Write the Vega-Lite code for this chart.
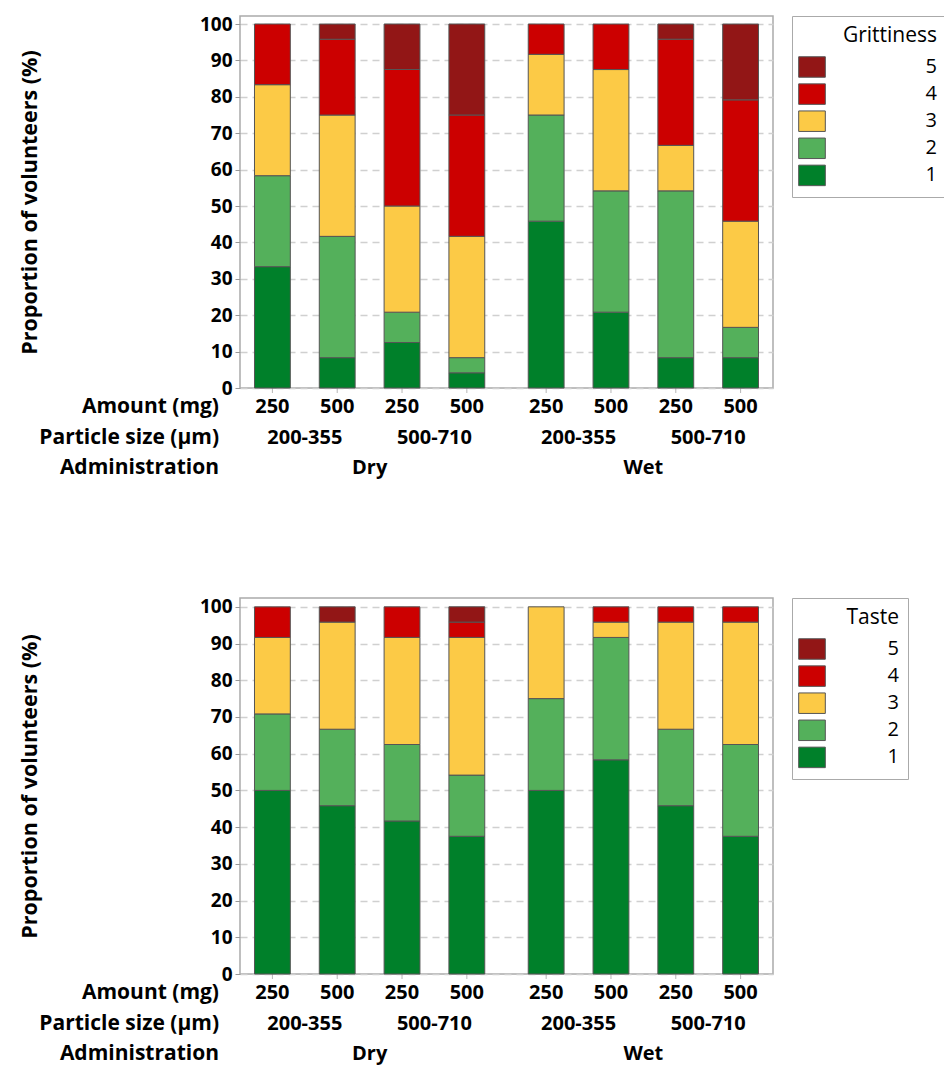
{
  "$schema": "https://vega.github.io/schema/vega-lite/v6.json",
  "padding": {"left": 18, "top": 14, "right": 0, "bottom": 0},
  "background": "white",
  "config": {
    "font": "Open Sans",
    "view": {"stroke": "#aaaaaa", "strokeWidth": 1.5},
    "concat": {"spacing": 117}
  },
  "data": {"values": [
    {"m":"Grittiness","admin":"Dry","particle":"200-355","amount":"250","cell":"200-355|250","level":1,"pct":33.33},
    {"m":"Grittiness","admin":"Dry","particle":"200-355","amount":"250","cell":"200-355|250","level":2,"pct":25},
    {"m":"Grittiness","admin":"Dry","particle":"200-355","amount":"250","cell":"200-355|250","level":3,"pct":25},
    {"m":"Grittiness","admin":"Dry","particle":"200-355","amount":"250","cell":"200-355|250","level":4,"pct":16.67},
    {"m":"Grittiness","admin":"Dry","particle":"200-355","amount":"500","cell":"200-355|500","level":1,"pct":8.33},
    {"m":"Grittiness","admin":"Dry","particle":"200-355","amount":"500","cell":"200-355|500","level":2,"pct":33.33},
    {"m":"Grittiness","admin":"Dry","particle":"200-355","amount":"500","cell":"200-355|500","level":3,"pct":33.33},
    {"m":"Grittiness","admin":"Dry","particle":"200-355","amount":"500","cell":"200-355|500","level":4,"pct":20.83},
    {"m":"Grittiness","admin":"Dry","particle":"200-355","amount":"500","cell":"200-355|500","level":5,"pct":4.17},
    {"m":"Grittiness","admin":"Dry","particle":"500-710","amount":"250","cell":"500-710|250","level":1,"pct":12.5},
    {"m":"Grittiness","admin":"Dry","particle":"500-710","amount":"250","cell":"500-710|250","level":2,"pct":8.33},
    {"m":"Grittiness","admin":"Dry","particle":"500-710","amount":"250","cell":"500-710|250","level":3,"pct":29.17},
    {"m":"Grittiness","admin":"Dry","particle":"500-710","amount":"250","cell":"500-710|250","level":4,"pct":37.5},
    {"m":"Grittiness","admin":"Dry","particle":"500-710","amount":"250","cell":"500-710|250","level":5,"pct":12.5},
    {"m":"Grittiness","admin":"Dry","particle":"500-710","amount":"500","cell":"500-710|500","level":1,"pct":4.17},
    {"m":"Grittiness","admin":"Dry","particle":"500-710","amount":"500","cell":"500-710|500","level":2,"pct":4.17},
    {"m":"Grittiness","admin":"Dry","particle":"500-710","amount":"500","cell":"500-710|500","level":3,"pct":33.33},
    {"m":"Grittiness","admin":"Dry","particle":"500-710","amount":"500","cell":"500-710|500","level":4,"pct":33.33},
    {"m":"Grittiness","admin":"Dry","particle":"500-710","amount":"500","cell":"500-710|500","level":5,"pct":25},
    {"m":"Grittiness","admin":"Wet","particle":"200-355","amount":"250","cell":"200-355|250","level":1,"pct":45.83},
    {"m":"Grittiness","admin":"Wet","particle":"200-355","amount":"250","cell":"200-355|250","level":2,"pct":29.17},
    {"m":"Grittiness","admin":"Wet","particle":"200-355","amount":"250","cell":"200-355|250","level":3,"pct":16.67},
    {"m":"Grittiness","admin":"Wet","particle":"200-355","amount":"250","cell":"200-355|250","level":4,"pct":8.33},
    {"m":"Grittiness","admin":"Wet","particle":"200-355","amount":"500","cell":"200-355|500","level":1,"pct":20.83},
    {"m":"Grittiness","admin":"Wet","particle":"200-355","amount":"500","cell":"200-355|500","level":2,"pct":33.33},
    {"m":"Grittiness","admin":"Wet","particle":"200-355","amount":"500","cell":"200-355|500","level":3,"pct":33.33},
    {"m":"Grittiness","admin":"Wet","particle":"200-355","amount":"500","cell":"200-355|500","level":4,"pct":12.5},
    {"m":"Grittiness","admin":"Wet","particle":"500-710","amount":"250","cell":"500-710|250","level":1,"pct":8.33},
    {"m":"Grittiness","admin":"Wet","particle":"500-710","amount":"250","cell":"500-710|250","level":2,"pct":45.83},
    {"m":"Grittiness","admin":"Wet","particle":"500-710","amount":"250","cell":"500-710|250","level":3,"pct":12.5},
    {"m":"Grittiness","admin":"Wet","particle":"500-710","amount":"250","cell":"500-710|250","level":4,"pct":29.17},
    {"m":"Grittiness","admin":"Wet","particle":"500-710","amount":"250","cell":"500-710|250","level":5,"pct":4.17},
    {"m":"Grittiness","admin":"Wet","particle":"500-710","amount":"500","cell":"500-710|500","level":1,"pct":8.33},
    {"m":"Grittiness","admin":"Wet","particle":"500-710","amount":"500","cell":"500-710|500","level":2,"pct":8.33},
    {"m":"Grittiness","admin":"Wet","particle":"500-710","amount":"500","cell":"500-710|500","level":3,"pct":29.17},
    {"m":"Grittiness","admin":"Wet","particle":"500-710","amount":"500","cell":"500-710|500","level":4,"pct":33.33},
    {"m":"Grittiness","admin":"Wet","particle":"500-710","amount":"500","cell":"500-710|500","level":5,"pct":20.83},
    {"m":"Taste","admin":"Dry","particle":"200-355","amount":"250","cell":"200-355|250","level":1,"pct":50},
    {"m":"Taste","admin":"Dry","particle":"200-355","amount":"250","cell":"200-355|250","level":2,"pct":20.83},
    {"m":"Taste","admin":"Dry","particle":"200-355","amount":"250","cell":"200-355|250","level":3,"pct":20.83},
    {"m":"Taste","admin":"Dry","particle":"200-355","amount":"250","cell":"200-355|250","level":4,"pct":8.33},
    {"m":"Taste","admin":"Dry","particle":"200-355","amount":"500","cell":"200-355|500","level":1,"pct":45.83},
    {"m":"Taste","admin":"Dry","particle":"200-355","amount":"500","cell":"200-355|500","level":2,"pct":20.83},
    {"m":"Taste","admin":"Dry","particle":"200-355","amount":"500","cell":"200-355|500","level":3,"pct":29.17},
    {"m":"Taste","admin":"Dry","particle":"200-355","amount":"500","cell":"200-355|500","level":5,"pct":4.17},
    {"m":"Taste","admin":"Dry","particle":"500-710","amount":"250","cell":"500-710|250","level":1,"pct":41.67},
    {"m":"Taste","admin":"Dry","particle":"500-710","amount":"250","cell":"500-710|250","level":2,"pct":20.83},
    {"m":"Taste","admin":"Dry","particle":"500-710","amount":"250","cell":"500-710|250","level":3,"pct":29.17},
    {"m":"Taste","admin":"Dry","particle":"500-710","amount":"250","cell":"500-710|250","level":4,"pct":8.33},
    {"m":"Taste","admin":"Dry","particle":"500-710","amount":"500","cell":"500-710|500","level":1,"pct":37.5},
    {"m":"Taste","admin":"Dry","particle":"500-710","amount":"500","cell":"500-710|500","level":2,"pct":16.67},
    {"m":"Taste","admin":"Dry","particle":"500-710","amount":"500","cell":"500-710|500","level":3,"pct":37.5},
    {"m":"Taste","admin":"Dry","particle":"500-710","amount":"500","cell":"500-710|500","level":4,"pct":4.17},
    {"m":"Taste","admin":"Dry","particle":"500-710","amount":"500","cell":"500-710|500","level":5,"pct":4.17},
    {"m":"Taste","admin":"Wet","particle":"200-355","amount":"250","cell":"200-355|250","level":1,"pct":50},
    {"m":"Taste","admin":"Wet","particle":"200-355","amount":"250","cell":"200-355|250","level":2,"pct":25},
    {"m":"Taste","admin":"Wet","particle":"200-355","amount":"250","cell":"200-355|250","level":3,"pct":25},
    {"m":"Taste","admin":"Wet","particle":"200-355","amount":"500","cell":"200-355|500","level":1,"pct":58.33},
    {"m":"Taste","admin":"Wet","particle":"200-355","amount":"500","cell":"200-355|500","level":2,"pct":33.33},
    {"m":"Taste","admin":"Wet","particle":"200-355","amount":"500","cell":"200-355|500","level":3,"pct":4.17},
    {"m":"Taste","admin":"Wet","particle":"200-355","amount":"500","cell":"200-355|500","level":4,"pct":4.17},
    {"m":"Taste","admin":"Wet","particle":"500-710","amount":"250","cell":"500-710|250","level":1,"pct":45.83},
    {"m":"Taste","admin":"Wet","particle":"500-710","amount":"250","cell":"500-710|250","level":2,"pct":20.83},
    {"m":"Taste","admin":"Wet","particle":"500-710","amount":"250","cell":"500-710|250","level":3,"pct":29.17},
    {"m":"Taste","admin":"Wet","particle":"500-710","amount":"250","cell":"500-710|250","level":4,"pct":4.17},
    {"m":"Taste","admin":"Wet","particle":"500-710","amount":"500","cell":"500-710|500","level":1,"pct":37.5},
    {"m":"Taste","admin":"Wet","particle":"500-710","amount":"500","cell":"500-710|500","level":2,"pct":25},
    {"m":"Taste","admin":"Wet","particle":"500-710","amount":"500","cell":"500-710|500","level":3,"pct":33.33},
    {"m":"Taste","admin":"Wet","particle":"500-710","amount":"500","cell":"500-710|500","level":4,"pct":4.17}
  ]},
  "resolve": {"scale": {"color": "independent", "x": "independent", "y": "independent", "xOffset": "independent"}, "legend": {"color": "independent"}},
  "vconcat": [
    {
      "width": 533, "height": 372,
      "transform": [{"filter": "datum.m === 'Grittiness'"}],
      "layer": [
        {
          "transform": [{"filter": "datum.level === 1"}],
          "mark": {"type": "tick", "orient": "vertical", "size": 10, "thickness": 1, "color": "#999999"},
          "encoding": {
            "x": {"field": "admin", "type": "nominal", "scale": {"paddingInner": 0.053, "paddingOuter": 0}, "axis": null},
            "xOffset": {"field": "cell", "type": "nominal", "scale": {"paddingInner": 0.447, "paddingOuter": 0.2235}},
            "y": {"value": "height"}
          }
        },
        {
          "mark": {"type": "bar", "stroke": "#555555", "strokeWidth": 1},
          "encoding": {
            "x": {"field": "admin", "type": "nominal", "scale": {"paddingInner": 0.053, "paddingOuter": 0}, "axis": null},
            "xOffset": {"field": "cell", "type": "nominal", "scale": {"paddingInner": 0.447, "paddingOuter": 0.2235}},
            "y": {"field": "pct", "type": "quantitative", "stack": "zero",
              "scale": {"domain": [0, 102.2], "nice": false, "zero": true},
              "axis": {"values": [0,10,20,30,40,50,60,70,80,90,100], "title": "Proportion of volunteers (%)",
                "titleFontSize": 21.5, "titleFontWeight": "bold", "titleColor": "black", "titleX": -210, "titleY": 186, "titleBaseline": "middle", "titleAngle": -90,
                "labelFontSize": 19, "labelFontWeight": "bold", "labelColor": "black", "labelPadding": 3,
                "tickSize": 5, "tickColor": "#999999", "domain": false,
                "grid": true, "gridDash": [7, 5], "gridColor": "#d0d0d0", "gridWidth": 1.5}},
            "color": {"field": "level", "type": "nominal", "sort": "descending",
              "scale": {"domain": [5,4,3,2,1], "range": ["#921616", "#cc0000", "#fcca46", "#54b05b", "#00802a"]},
              "legend": {"orient": "none", "legendX": 552, "legendY": 0, "title": "Grittiness",
                "titleFontSize": 21, "titleFontWeight": "normal", "titleColor": "black", "titleAnchor": "end", "titlePadding": 10,
                "labelFontSize": 20, "labelColor": "black", "labelAlign": "right", "labelOffset": 114,
                "symbolType": "M-1.3,-1H1.3V1H-1.3Z", "symbolSize": 420, "symbolStrokeColor": "#555555", "symbolStrokeWidth": 1, "symbolOpacity": 1,
                "rowPadding": 1.1, "padding": 9, "strokeColor": "#aaaaaa"}},
            "order": {"field": "level", "type": "quantitative", "sort": "ascending"}
          }
        },
        {
          "transform": [{"filter": "datum.level === 1"}],
          "mark": {"type": "text", "fontSize": 20, "fontWeight": "bold", "baseline": "middle", "dy": 19, "color": "black"},
          "encoding": {
            "x": {"field": "admin", "type": "nominal", "scale": {"paddingInner": 0.053, "paddingOuter": 0}, "axis": null},
            "xOffset": {"field": "cell", "type": "nominal", "scale": {"paddingInner": 0.447, "paddingOuter": 0.2235}},
            "y": {"value": "height"},
            "text": {"field": "amount"}
          }
        },
        {
          "transform": [{"filter": "datum.level === 1 && datum.amount === '250'"}],
          "mark": {"type": "text", "fontSize": 20, "fontWeight": "bold", "baseline": "middle", "dy": 50, "dx": 32.4, "color": "black"},
          "encoding": {
            "x": {"field": "admin", "type": "nominal", "scale": {"paddingInner": 0.053, "paddingOuter": 0}, "axis": null},
            "xOffset": {"field": "cell", "type": "nominal", "scale": {"paddingInner": 0.447, "paddingOuter": 0.2235}},
            "y": {"value": "height"},
            "text": {"field": "particle"}
          }
        },
        {
          "transform": [{"filter": "datum.level === 1 && datum.cell === '200-355|250'"}],
          "mark": {"type": "text", "fontSize": 20, "fontWeight": "bold", "baseline": "middle", "dy": 80, "color": "black"},
          "encoding": {
            "x": {"field": "admin", "type": "nominal", "scale": {"paddingInner": 0.053, "paddingOuter": 0}, "axis": null},
            "y": {"value": "height"},
            "text": {"field": "admin"}
          }
        },
        {
          "transform": [{"filter": "datum.level === 1 && datum.cell === '200-355|250' && datum.admin === 'Dry'"}],
          "mark": {"type": "text", "fontSize": 21, "fontWeight": "bold", "baseline": "middle", "align": "right", "dx": -21, "dy": 19, "color": "black", "text": "Amount (mg)"},
          "encoding": {"x": {"value": 0}, "y": {"value": "height"}}
        },
        {
          "transform": [{"filter": "datum.level === 1 && datum.cell === '200-355|250' && datum.admin === 'Dry'"}],
          "mark": {"type": "text", "fontSize": 21, "fontWeight": "bold", "baseline": "middle", "align": "right", "dx": -21, "dy": 50, "color": "black", "text": "Particle size (µm)"},
          "encoding": {"x": {"value": 0}, "y": {"value": "height"}}
        },
        {
          "transform": [{"filter": "datum.level === 1 && datum.cell === '200-355|250' && datum.admin === 'Dry'"}],
          "mark": {"type": "text", "fontSize": 21, "fontWeight": "bold", "baseline": "middle", "align": "right", "dx": -21, "dy": 80, "color": "black", "text": "Administration"},
          "encoding": {"x": {"value": 0}, "y": {"value": "height"}}
        }
      ]
    },
    {
      "width": 533, "height": 376,
      "transform": [{"filter": "datum.m === 'Taste'"}],
      "layer": [
        {
          "transform": [{"filter": "datum.level === 1"}],
          "mark": {"type": "tick", "orient": "vertical", "size": 10, "thickness": 1, "color": "#999999"},
          "encoding": {
            "x": {"field": "admin", "type": "nominal", "scale": {"paddingInner": 0.053, "paddingOuter": 0}, "axis": null},
            "xOffset": {"field": "cell", "type": "nominal", "scale": {"paddingInner": 0.447, "paddingOuter": 0.2235}},
            "y": {"value": "height"}
          }
        },
        {
          "mark": {"type": "bar", "stroke": "#555555", "strokeWidth": 1},
          "encoding": {
            "x": {"field": "admin", "type": "nominal", "scale": {"paddingInner": 0.053, "paddingOuter": 0}, "axis": null},
            "xOffset": {"field": "cell", "type": "nominal", "scale": {"paddingInner": 0.447, "paddingOuter": 0.2235}},
            "y": {"field": "pct", "type": "quantitative", "stack": "zero",
              "scale": {"domain": [0, 102.4], "nice": false, "zero": true},
              "axis": {"values": [0,10,20,30,40,50,60,70,80,90,100], "title": "Proportion of volunteers (%)",
                "titleFontSize": 21.5, "titleFontWeight": "bold", "titleColor": "black", "titleX": -210, "titleY": 188, "titleBaseline": "middle", "titleAngle": -90,
                "labelFontSize": 19, "labelFontWeight": "bold", "labelColor": "black", "labelPadding": 3,
                "tickSize": 5, "tickColor": "#999999", "domain": false,
                "grid": true, "gridDash": [7, 5], "gridColor": "#d0d0d0", "gridWidth": 1.5}},
            "color": {"field": "level", "type": "nominal", "sort": "descending",
              "scale": {"domain": [5,4,3,2,1], "range": ["#921616", "#cc0000", "#fcca46", "#54b05b", "#00802a"]},
              "legend": {"orient": "none", "legendX": 552, "legendY": 0, "title": "Taste",
                "titleFontSize": 21, "titleFontWeight": "normal", "titleColor": "black", "titleAnchor": "end", "titlePadding": 10,
                "labelFontSize": 20, "labelColor": "black", "labelAlign": "right", "labelOffset": 76,
                "symbolType": "M-1.3,-1H1.3V1H-1.3Z", "symbolSize": 420, "symbolStrokeColor": "#555555", "symbolStrokeWidth": 1, "symbolOpacity": 1,
                "rowPadding": 1.1, "padding": 9, "strokeColor": "#aaaaaa"}},
            "order": {"field": "level", "type": "quantitative", "sort": "ascending"}
          }
        },
        {
          "transform": [{"filter": "datum.level === 1"}],
          "mark": {"type": "text", "fontSize": 20, "fontWeight": "bold", "baseline": "middle", "dy": 19, "color": "black"},
          "encoding": {
            "x": {"field": "admin", "type": "nominal", "scale": {"paddingInner": 0.053, "paddingOuter": 0}, "axis": null},
            "xOffset": {"field": "cell", "type": "nominal", "scale": {"paddingInner": 0.447, "paddingOuter": 0.2235}},
            "y": {"value": "height"},
            "text": {"field": "amount"}
          }
        },
        {
          "transform": [{"filter": "datum.level === 1 && datum.amount === '250'"}],
          "mark": {"type": "text", "fontSize": 20, "fontWeight": "bold", "baseline": "middle", "dy": 50, "dx": 32.4, "color": "black"},
          "encoding": {
            "x": {"field": "admin", "type": "nominal", "scale": {"paddingInner": 0.053, "paddingOuter": 0}, "axis": null},
            "xOffset": {"field": "cell", "type": "nominal", "scale": {"paddingInner": 0.447, "paddingOuter": 0.2235}},
            "y": {"value": "height"},
            "text": {"field": "particle"}
          }
        },
        {
          "transform": [{"filter": "datum.level === 1 && datum.cell === '200-355|250'"}],
          "mark": {"type": "text", "fontSize": 20, "fontWeight": "bold", "baseline": "middle", "dy": 80, "color": "black"},
          "encoding": {
            "x": {"field": "admin", "type": "nominal", "scale": {"paddingInner": 0.053, "paddingOuter": 0}, "axis": null},
            "y": {"value": "height"},
            "text": {"field": "admin"}
          }
        },
        {
          "transform": [{"filter": "datum.level === 1 && datum.cell === '200-355|250' && datum.admin === 'Dry'"}],
          "mark": {"type": "text", "fontSize": 21, "fontWeight": "bold", "baseline": "middle", "align": "right", "dx": -21, "dy": 19, "color": "black", "text": "Amount (mg)"},
          "encoding": {"x": {"value": 0}, "y": {"value": "height"}}
        },
        {
          "transform": [{"filter": "datum.level === 1 && datum.cell === '200-355|250' && datum.admin === 'Dry'"}],
          "mark": {"type": "text", "fontSize": 21, "fontWeight": "bold", "baseline": "middle", "align": "right", "dx": -21, "dy": 50, "color": "black", "text": "Particle size (µm)"},
          "encoding": {"x": {"value": 0}, "y": {"value": "height"}}
        },
        {
          "transform": [{"filter": "datum.level === 1 && datum.cell === '200-355|250' && datum.admin === 'Dry'"}],
          "mark": {"type": "text", "fontSize": 21, "fontWeight": "bold", "baseline": "middle", "align": "right", "dx": -21, "dy": 80, "color": "black", "text": "Administration"},
          "encoding": {"x": {"value": 0}, "y": {"value": "height"}}
        }
      ]
    }
  ]
}
